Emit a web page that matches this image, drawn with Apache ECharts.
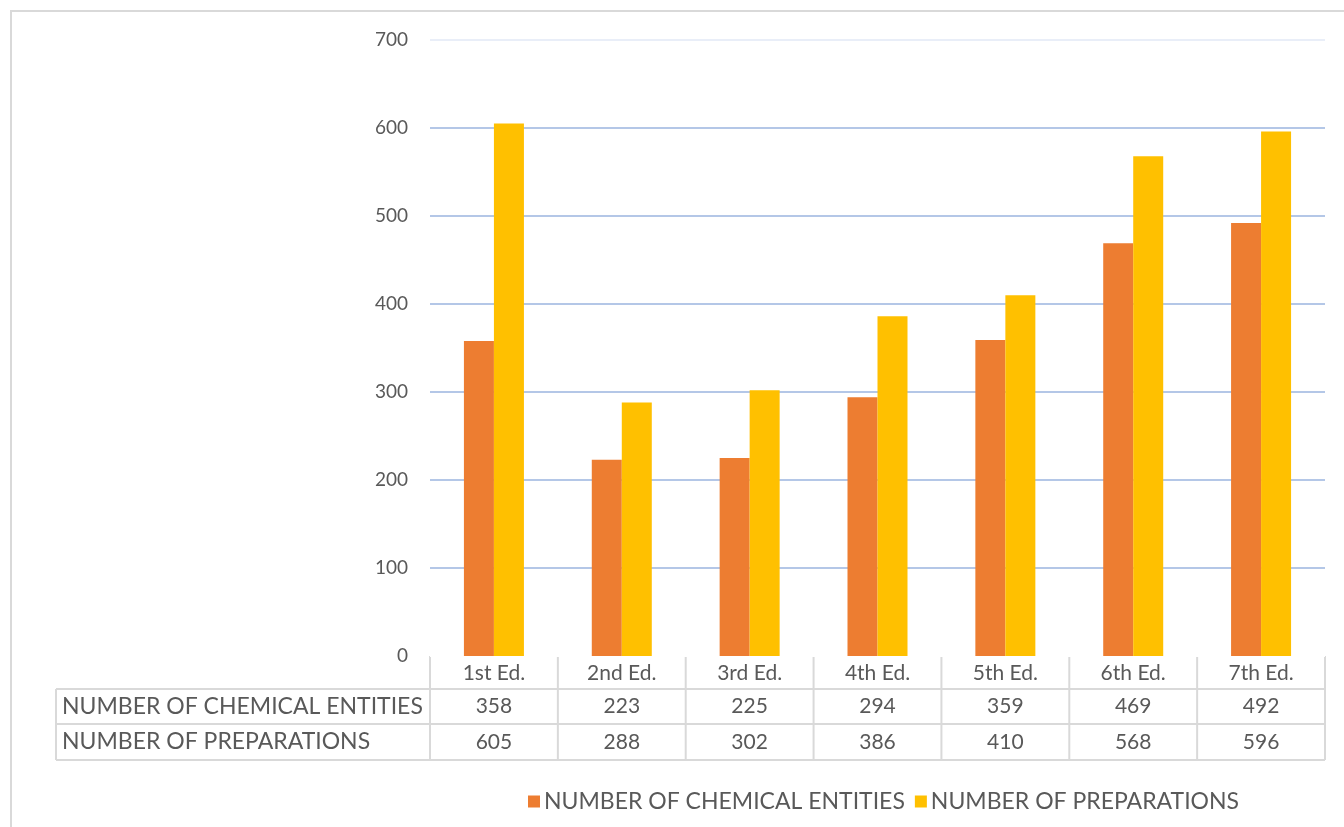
<!DOCTYPE html>
<html><head><meta charset="utf-8">
<script src="https://cdn.jsdelivr.net/npm/echarts@6/dist/echarts.min.js"></script>
<style>html,body{margin:0;padding:0;background:#fff}#c{width:1344px;height:827px}</style>
</head><body><div id="c"></div>
<script>
const categories = ['1st Ed.','2nd Ed.','3rd Ed.','4th Ed.','5th Ed.','6th Ed.','7th Ed.'];
const seriesNames = ['NUMBER OF CHEMICAL ENTITIES','NUMBER OF PREPARATIONS'];
const chemicalEntities = [358,223,225,294,359,469,492];
const preparations = [605,288,302,386,410,568,596];
const colors = ['#ED7D31','#FFC000'];

const FONT = 'Lato';
const TXT = '#595959';
const GL = 430, GR = 1325, GT = 40, GB = 656;
const rowY = [656, 689, 724, 760];
const tableLeft = 56;
const lineC = '#D9D9D9';

const chart = echarts.init(document.getElementById('c'), null, {renderer:'canvas'});
const catW = (GR-GL)/categories.length;
const graphics = [];
graphics.push({type:'polyline', shape:{points:[[11,830],[11,11],[1350,11]]}, style:{stroke:'#D9D9D9', lineWidth:2, fill:null}});
graphics.push({type:'line', shape:{x1:GL,y1:rowY[0],x2:GR,y2:rowY[0]}, style:{stroke:lineC,lineWidth:2}});
for (let i=1;i<4;i++) graphics.push({type:'line', shape:{x1:tableLeft,y1:rowY[i],x2:GR,y2:rowY[i]}, style:{stroke:lineC,lineWidth:2}});
graphics.push({type:'line', shape:{x1:tableLeft,y1:rowY[1],x2:tableLeft,y2:rowY[3]}, style:{stroke:lineC,lineWidth:2}});
for (let i=0;i<=categories.length;i++){
  const x = GL + i*catW;
  graphics.push({type:'line', shape:{x1:x,y1:rowY[0],x2:x,y2:rowY[3]}, style:{stroke:lineC,lineWidth:2}});
}
const rows = [chemicalEntities, preparations];
rows.forEach((vals, r) => {
  const cy = (rowY[r+1]+rowY[r+2])/2;
  graphics.push({type:'text', x:62, y:cy, style:{text:seriesNames[r], font:'23px '+FONT, fill:TXT, textVerticalAlign:'middle', textAlign:'left'}});
  vals.forEach((v,i) => {
    graphics.push({type:'text', x:GL+(i+0.5)*catW, y:cy, style:{text:String(v), font:'21px '+FONT, fill:TXT, textVerticalAlign:'middle', textAlign:'center'}});
  });
});

chart.setOption({
  animation:false,
  grid:{left:GL, right:1344-GR, top:GT, bottom:827-GB, containLabel:false},
  legend:{top:785, left:523, itemWidth:12, itemHeight:12, itemGap:10, icon:'rect',
    textStyle:{fontFamily:FONT, fontSize:23, color:TXT, padding:[0,0,0,-1]},
    data:seriesNames, selectedMode:false},
  xAxis:{type:'category', data:categories,
    axisLine:{show:false}, axisTick:{show:false},
    axisLabel:{fontFamily:FONT, fontSize:21, color:TXT, margin:7}},
  yAxis:{type:'value', min:0, max:700, interval:100,
    axisLine:{show:false}, axisTick:{show:false},
    axisLabel:{fontFamily:FONT, fontSize:19, color:TXT, margin:22},
    splitLine:{lineStyle:{color:['#FFFFFF','#B4C7E7','#B4C7E7','#B4C7E7','#B4C7E7','#B4C7E7','#B4C7E7','#E9EEF8'], width:2}}},
  series:[
    {name:seriesNames[0], type:'bar', data:chemicalEntities, barWidth:30, barGap:'0%', itemStyle:{color:colors[0]}},
    {name:seriesNames[1], type:'bar', data:preparations, barWidth:30, barGap:'0%', itemStyle:{color:colors[1]}}
  ],
  graphic:graphics
});
</script></body></html>
